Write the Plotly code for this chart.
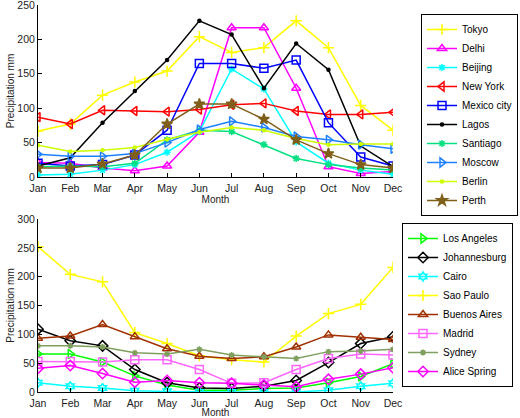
import plotly.graph_objects as go

months = ["Jan", "Feb", "Mar", "Apr", "May", "Jun", "Jul", "Aug", "Sep", "Oct", "Nov", "Dec"]
month_idx = list(range(1, 13))

# Top chart
tokyo = [67, 77, 119, 138, 154, 204, 181, 188, 227, 188, 104, 68]
delhi = [21, 20, 13, 9, 16, 65, 217, 217, 129, 15, 5, 8]
beijing = [3, 4, 10, 18, 36, 66, 157, 128, 51, 20, 10, 4]
new_york = [87, 77, 97, 96, 95, 98, 105, 107, 96, 91, 91, 94]
mexico_city = [20, 16, 18, 32, 68, 165, 165, 158, 170, 79, 29, 16]
lagos = [16, 28, 79, 125, 170, 227, 207, 129, 194, 156, 45, 15]
santiago = [15, 16, 15, 20, 54, 68, 66, 47, 27, 18, 13, 10]
moscow = [33, 30, 30, 34, 50, 69, 81, 72, 59, 54, 47, 41]
berlin = [46, 37, 39, 43, 55, 65, 72, 68, 56, 47, 48, 48]
perth = [13, 13, 19, 32, 77, 106, 106, 84, 54, 34, 18, 13]

# Bottom chart
los_angeles = [66, 66, 52, 28, 12, 3, 3, 6, 7, 16, 27, 49]
johannesburg = [109, 89, 80, 39, 16, 7, 6, 10, 20, 51, 84, 96]
cairo = [16, 10, 7, 2, 1, 0, 0, 0, 0, 3, 10, 15]
sao_paulo = [252, 204, 191, 103, 84, 63, 56, 52, 97, 136, 152, 216]
buenos_aires = [93, 97, 117, 96, 75, 62, 58, 61, 78, 99, 95, 91]
madrid = [53, 53, 52, 56, 56, 39, 15, 16, 39, 58, 66, 64]
sydney = [80, 80, 78, 68, 66, 74, 64, 61, 58, 70, 71, 74]
alice_spring = [41, 46, 32, 17, 20, 16, 15, 12, 9, 22, 31, 42]

top_series = [
    ("Tokyo", tokyo, "#FFFF00", "cross-thin-open", 8),
    ("Delhi", delhi, "#FF00FF", "triangle-up-open", 8),
    ("Beijing", beijing, "#00FFFF", "asterisk-open", 6),
    ("New York", new_york, "#FF0000", "triangle-left-open", 8),
    ("Mexico city", mexico_city, "#0000FF", "square-open", 8),
    ("Lagos", lagos, "#000000", "circle", 3),
    ("Santiago", santiago, "#00E080", "asterisk-open", 6),
    ("Moscow", moscow, "#1E80FF", "triangle-right-open", 8),
    ("Berlin", berlin, "#CCFF00", "circle", 3),
    ("Perth", perth, "#7F5F1A", "star", 8),
]

bottom_series = [
    ("Los Angeles", los_angeles, "#00FF00", "triangle-right-open", 8),
    ("Johannesburg", johannesburg, "#000000", "diamond-open", 8),
    ("Cairo", cairo, "#00FFFF", "hexagram-open", 7),
    ("Sao Paulo", sao_paulo, "#FFFF00", "cross-thin-open", 8),
    ("Buenos Aires", buenos_aires, "#A03000", "triangle-up-open", 8),
    ("Madrid", madrid, "#FF66FF", "square-open", 8),
    ("Sydney", sydney, "#7F9F5F", "asterisk-open", 5),
    ("Alice Spring", alice_spring, "#FF00FF", "diamond-open", 8),
]

fig = go.Figure()

for name, vals, color, sym, size in top_series:
    fig.add_trace(go.Scatter(
        x=month_idx, y=vals, name=name, mode="lines+markers",
        line=dict(color=color, width=1.5),
        marker=dict(symbol=sym, size=size, color=color, line=dict(color=color, width=1.5)),
        xaxis="x", yaxis="y", legend="legend",
    ))

for name, vals, color, sym, size in bottom_series:
    fig.add_trace(go.Scatter(
        x=month_idx, y=vals, name=name, mode="lines+markers",
        line=dict(color=color, width=1.5),
        marker=dict(symbol=sym, size=size, color=color, line=dict(color=color, width=1.5)),
        xaxis="x2", yaxis="y2", legend="legend2",
    ))

W, H = 520, 418
xdom = [38 / W, 393 / W]
FONT = "Liberation Sans, Arial, sans-serif"
tick_font = dict(family=FONT, size=10.5, color="#222")
title_font = dict(family=FONT, size=10, color="#222")
legend_font = dict(family=FONT, size=10, color="black")

common_x = dict(
    tickmode="array", tickvals=month_idx, ticktext=months, range=[1, 12],
    showline=True, linecolor="black", linewidth=1, ticks="inside", ticklen=4,
    tickcolor="black", showgrid=False, zeroline=False, tickfont=tick_font,
    automargin=False, ticklabeloverflow="allow", ticklabelstandoff=1,
    title=dict(text="Month", font=title_font, standoff=0),
)
common_y = dict(
    showline=True, linecolor="black", linewidth=1, ticks="inside", ticklen=4,
    tickcolor="black", showgrid=False, zeroline=False, tickfont=tick_font,
    automargin=False, ticklabeloverflow="allow",
    title=dict(text="Precipitation mm", font=title_font, standoff=0),
)

fig.update_layout(
    width=W, height=H,
    margin=dict(l=0, r=0, t=0, b=0, autoexpand=False),
    paper_bgcolor="white", plot_bgcolor="white",
    xaxis=dict(domain=xdom, anchor="y", **common_x),
    yaxis=dict(domain=[1 - 177 / H, 1 - 5 / H], anchor="x", range=[0, 250],
               tickvals=[0, 50, 100, 150, 200, 250], **common_y),
    xaxis2=dict(domain=xdom, anchor="y2", **common_x),
    yaxis2=dict(domain=[1 - 392 / H, 1 - 219 / H], anchor="x2", range=[0, 300],
                tickvals=[0, 50, 100, 150, 200, 250, 300], **common_y),
    legend=dict(x=518 / W, y=1 - 14 / H, xanchor="right", yanchor="top",
                bgcolor="white", bordercolor="black", borderwidth=1,
                font=legend_font, tracegroupgap=0, itemwidth=30),
    legend2=dict(x=513 / W, y=1 - 223 / H, xanchor="right", yanchor="top",
                 bgcolor="white", bordercolor="black", borderwidth=1,
                 font=legend_font, tracegroupgap=0, itemwidth=30),
    showlegend=True,
)

fig.write_html(
    "out.html",
    config={"displayModeBar": False},
    post_script="document.body.style.margin='0';document.body.style.overflow='hidden';",
)
